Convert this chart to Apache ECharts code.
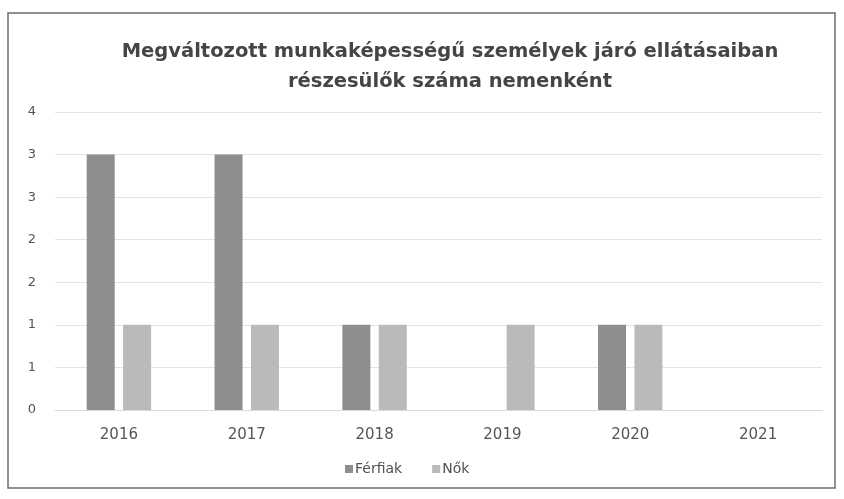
<!DOCTYPE html>
<html>
<head>
<meta charset="utf-8">
<script src="https://cdn.jsdelivr.net/npm/echarts@6/dist/echarts.min.js"></script>
<style>
html, body { margin: 0; padding: 0; background: #fff; }
#chart { width: 844px; height: 499px; }
</style>
</head>
<body>
<div id="chart"></div>
<script>
var years = ['2016', '2017', '2018', '2019', '2020', '2021'];
var ferfiak = [3, 3, 1, 0, 1, 0];
var nok = [1, 1, 1, 1, 1, 0];
var yTickLabels = ['0', '1', '1', '2', '2', '3', '3', '4'];

var chart = echarts.init(document.getElementById('chart'));
chart.setOption({
    backgroundColor: '#ffffff',
    animation: false,
    graphic: [{
        type: 'rect',
        shape: { x: 8, y: 13, width: 827, height: 475 },
        style: { fill: 'none', stroke: '#6e6e6e', lineWidth: 1.5 },
        silent: true
    }],
    title: {
        text: 'Megváltozott munkaképességű személyek járó ellátásaiban\nrészesülők száma nemenként',
        left: 445,
        textAlign: 'center',
        top: 32,
        textStyle: {
            fontFamily: 'DejaVu Sans',
            fontSize: 19.5,
            fontWeight: 'bold',
            color: '#454545',
            lineHeight: 30
        }
    },
    legend: {
        bottom: 18,
        left: 340,
        itemWidth: 8,
        itemHeight: 8,
        itemGap: 30,
        icon: 'rect',
        textStyle: { fontFamily: 'DejaVu Sans', fontSize: 14, color: '#505050', padding: [0, 0, 0, -3] },
        data: ['Férfiak', 'Nők']
    },
    grid: { left: 55, right: 22, top: 112, bottom: 89, containLabel: false },
    xAxis: {
        type: 'category',
        data: years,
        axisLine: { show: true, lineStyle: { color: '#d9d9d9' } },
        axisTick: { show: false },
        axisLabel: { fontFamily: 'DejaVu Sans', fontSize: 15, color: '#555', margin: 18 }
    },
    yAxis: {
        type: 'value',
        min: 0,
        max: 3.5,
        interval: 0.5,
        axisLine: { show: false },
        axisTick: { show: false },
        splitLine: { lineStyle: { color: '#e3e3e3' } },
        axisLabel: {
            fontFamily: 'DejaVu Sans',
            fontSize: 13,
            color: '#555',
            margin: 19,
            formatter: function(v) {
                return yTickLabels[Math.round(v / 0.5)];
            }
        }
    },
    series: [{
        name: 'Férfiak',
        type: 'bar',
        data: ferfiak,
        barWidth: 28,
        barGap: '30%',
        itemStyle: { color: '#8e8e8e' }
    }, {
        name: 'Nők',
        type: 'bar',
        data: nok,
        barWidth: 28,
        itemStyle: { color: '#bababa' }
    }]
});
</script>
</body>
</html>
